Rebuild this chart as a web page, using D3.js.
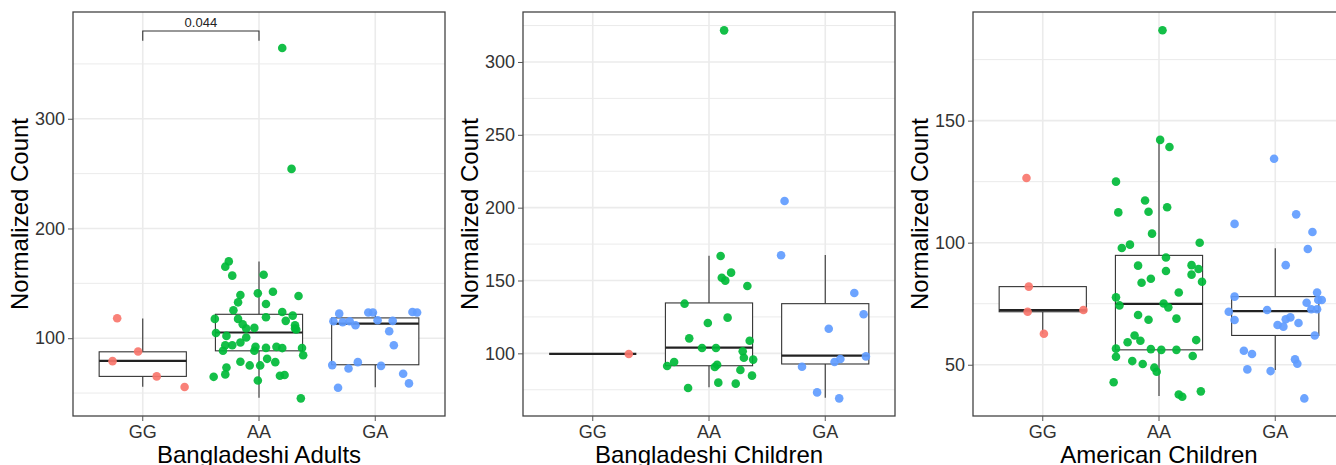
<!DOCTYPE html>
<html>
<head>
<meta charset="utf-8">
<script src="https://cdn.jsdelivr.net/npm/d3@7"></script>
<style>
body { margin: 0; background: #fff; }
text { font-family: "Liberation Sans", Arial, sans-serif; }
</style>
</head>
<body>
<svg id="chart" width="1336" height="465"></svg>
<script>
// Categories and colours
var genotypes = ["GG", "AA", "GA"];
var genoColors = ["#F8766D", "#00BA38", "#619CFF"];
var panelTitles = ["Bangladeshi Adults", "Bangladeshi Children", "American Children"];

// y axis setup per panel
var yDomains = [[29.1, 397.3], [57, 334.3], [29, 194.5]];
var yMajor = [[100, 200, 300], [100, 150, 200, 250, 300], [50, 100, 150]];
var yMinor = [[50, 150, 250, 350], [75, 125, 175, 225, 275, 325], [75, 125, 175]];

// Points: [jitter (category units), normalized count]
var adultsGG = [[-0.22, 118.2], [-0.04, 87.9], [-0.26, 79.1], [0.12, 65.2], [0.36, 55.5]];
var adultsAA = [[0.20, 364.5], [0.28, 254.3], [-0.26, 170], [-0.29, 165.2], [-0.23, 157], [0.04, 157.9],
  [-0.16, 139.4], [-0.01, 140.9], [0.12, 142.4], [0.34, 138.5], [-0.18, 132.7], [0.06, 131.2],
  [-0.22, 125.5], [0.20, 123.9], [0.29, 120.6], [-0.38, 117.6], [-0.18, 117.6], [0.06, 119.1],
  [0.23, 115.8], [0.31, 111.8], [-0.14, 112.7], [-0.11, 108.8], [-0.04, 109.4], [0.31, 108.8],
  [0.32, 108], [-0.37, 104.8], [-0.11, 100.6], [-0.28, 102.1], [-0.16, 96.1], [-0.29, 93.6],
  [-0.23, 93.6], [-0.03, 92.1], [0.06, 91.2], [0.15, 92.1], [0.20, 91], [0.37, 91],
  [-0.31, 88.5], [-0.04, 88.5], [0.38, 84.5], [0.07, 81.2], [-0.16, 78.5], [0.14, 78.2],
  [-0.08, 75.2], [0.01, 75.2], [-0.28, 73.3], [-0.29, 67], [-0.39, 64.8], [0.18, 65.8],
  [0.22, 66.4], [-0.01, 61.5], [0.36, 45.2]];
var adultsGA = [[-0.31, 122.4], [-0.06, 123.4], [-0.02, 123.4], [0.32, 123.9], [0.36, 123.4],
  [-0.36, 115.5], [-0.28, 114.5], [-0.22, 115.5], [-0.17, 111.8], [0.02, 116.4], [0.15, 115.8],
  [0.12, 106.4], [0.16, 93.6], [-0.37, 75.5], [-0.23, 72.4], [-0.15, 78.2], [0.05, 74.8],
  [0.24, 67.6], [-0.32, 54.8], [0.29, 58.8]];

var kidsBdGG = [[0.31, 99.6]];
var kidsBdAA = [[0.13, 321.7], [0.10, 166.8], [0.19, 155.4], [0.11, 151.9], [0.14, 149.9], [0.33, 146.2],
  [-0.21, 134.1], [0.16, 124.5], [-0.01, 120.8], [-0.17, 110.3], [0.35, 108.7], [-0.06, 103.7],
  [0.06, 103.7], [0.29, 101.4], [0.30, 97], [0.38, 95.7], [-0.30, 94.1], [-0.36, 91.3],
  [0.07, 92.2], [0.05, 90.6], [0.27, 88.6], [0.37, 84.7], [0.08, 79.9], [0.23, 79.2], [-0.18, 76.2]];
var kidsBdGA = [[-0.35, 204.6], [-0.38, 167.3], [0.25, 141.4], [0.33, 126.8], [0.03, 116.9], [0.35, 97.9],
  [0.13, 96.1], [0.08, 94.1], [-0.20, 90.8], [-0.07, 73.2], [0.12, 69.1]];

var kidsUsGG = [[-0.14, 126.5], [-0.12, 82], [-0.13, 71.7], [0.35, 72.4], [0.01, 62.7]];
var kidsUsAA = [[0.03, 187], [0.01, 142.1], [0.09, 139.2], [-0.37, 125], [-0.12, 117.3], [0.07, 114.5],
  [-0.35, 112.4], [-0.09, 112.7], [-0.06, 103.7], [0.35, 100], [-0.25, 99.2], [-0.32, 97.8],
  [0.06, 93.9], [-0.18, 90.6], [0.28, 90.8], [0.34, 89.2], [0.06, 88.4], [0.28, 86.9],
  [-0.15, 83.6], [-0.07, 85.2], [0.37, 84], [0.17, 79.6], [-0.37, 77.6], [-0.34, 74.3],
  [0.04, 75.1], [0.08, 73.5], [-0.18, 70.4], [-0.09, 68.4], [0.15, 68.9], [-0.21, 62],
  [-0.16, 59.8], [-0.27, 59.2], [0.32, 60.1], [-0.37, 56.6], [-0.07, 56.4], [0.02, 56.1],
  [0.15, 56.1], [0.29, 53.6], [-0.37, 53.3], [-0.23, 51.5], [-0.14, 50.3], [-0.04, 48.8],
  [-0.02, 47.1], [-0.39, 42.8], [0.36, 39.1], [0.17, 37.8], [0.20, 36.9]];
var kidsUsGA = [[-0.01, 134.4], [0.18, 111.6], [-0.35, 107.7], [0.32, 104.4], [0.28, 97.4], [0.09, 90.8],
  [0.36, 79.6], [-0.35, 77.9], [0.37, 76.5], [0.40, 76.5], [0.27, 75.4], [-0.07, 72.4],
  [-0.40, 71.7], [0.31, 72.7], [0.36, 72.7], [0.13, 69.4], [0.09, 68.6], [-0.35, 68.3],
  [0.20, 67.1], [0.02, 66.3], [0.07, 65.6], [0.34, 62], [-0.27, 55.7], [-0.20, 54.4],
  [0.17, 52.2], [0.19, 50.4], [-0.24, 48.1], [-0.04, 47.4], [0.25, 36.2]];

// Box stats per genotype: [lower whisker, Q1, median, Q3, upper whisker]
var adultsBox = [[55.7, 65.2, 79.4, 87.6, 118], [45.7, 88.5, 105.2, 121.8, 170], [55.2, 75.8, 113.3, 118.5, 123.6]];
var kidsBdBox = [[99.7, 99.7, 99.7, 99.7, 99.7], [76.7, 91.5, 103.9, 134.6, 167], [69.6, 92.7, 98.4, 134.1, 167.5]];
var kidsUsBox = [[62.7, 71.7, 72.4, 82, 82], [37.2, 56.1, 74.9, 94.8, 142.1], [47.8, 62, 72, 77.9, 97.7]];

// Significance annotation (panel 1): GG vs AA
var sigBrackets = [{ panel: 0, from: "GG", to: "AA", y: 380, tip: 371, label: "0.044" }];

var panelPoints = [[adultsGG, adultsAA, adultsGA], [kidsBdGG, kidsBdAA, kidsBdGA], [kidsUsGG, kidsUsAA, kidsUsGA]];
var panelBoxes = [adultsBox, kidsBdBox, kidsUsBox];

// Layout
var panelStep = 450,
    plotLeft = 73,
    plotWidth = 372,
    plotTop = 12,
    plotBottom = 416;

var svg = d3.select("#chart");

panelTitles.forEach(function(title, p) {
    var g = svg.append("g")
        .attr("transform", "translate(" + (p * panelStep + plotLeft) + "," + plotTop + ")");
    var h = plotBottom - plotTop;

    var x = d3.scaleBand()
        .domain(genotypes)
        .range([0, plotWidth])
        .paddingInner(0)
        .paddingOuter(0.1);
    var step = x.step();
    var cx = function(gt) { return x(gt) + x.bandwidth() / 2; };

    var y = d3.scaleLinear()
        .domain(yDomains[p])
        .range([h, 0]);

    // Grid: minor then major
    g.append("g").selectAll("line")
        .data(yMinor[p])
        .enter().append("line")
        .attr("x1", 0).attr("x2", plotWidth)
        .attr("y1", d => y(d)).attr("y2", d => y(d))
        .attr("stroke", "#EBEBEB").attr("stroke-width", 1);
    g.append("g").selectAll("line")
        .data(yMajor[p])
        .enter().append("line")
        .attr("x1", 0).attr("x2", plotWidth)
        .attr("y1", d => y(d)).attr("y2", d => y(d))
        .attr("stroke", "#EBEBEB").attr("stroke-width", 1.6);
    g.append("g").selectAll("line")
        .data(genotypes)
        .enter().append("line")
        .attr("x1", d => cx(d)).attr("x2", d => cx(d))
        .attr("y1", 0).attr("y2", h)
        .attr("stroke", "#EBEBEB").attr("stroke-width", 1.6);

    // Boxplots
    var boxes = panelBoxes[p];
    var bw = step * 0.75;
    var boxG = g.append("g").selectAll("g")
        .data(genotypes)
        .enter().append("g");
    boxG.append("line")
        .attr("x1", d => cx(d)).attr("x2", d => cx(d))
        .attr("y1", (d, i) => y(boxes[i][0])).attr("y2", (d, i) => y(boxes[i][1]))
        .attr("stroke", "#333").attr("stroke-width", 1.1);
    boxG.append("line")
        .attr("x1", d => cx(d)).attr("x2", d => cx(d))
        .attr("y1", (d, i) => y(boxes[i][3])).attr("y2", (d, i) => y(boxes[i][4]))
        .attr("stroke", "#333").attr("stroke-width", 1.1);
    boxG.append("rect")
        .attr("x", d => cx(d) - bw / 2)
        .attr("width", bw)
        .attr("y", (d, i) => y(boxes[i][3]))
        .attr("height", (d, i) => Math.max(0, y(boxes[i][1]) - y(boxes[i][3])))
        .attr("fill", "#fff")
        .attr("stroke", "#333").attr("stroke-width", 1.1);
    boxG.append("line")
        .attr("x1", d => cx(d) - bw / 2).attr("x2", d => cx(d) + bw / 2)
        .attr("y1", (d, i) => y(boxes[i][2])).attr("y2", (d, i) => y(boxes[i][2]))
        .attr("stroke", "#222").attr("stroke-width", 2.2);

    // Jittered points
    genotypes.forEach(function(gt, gi) {
        g.append("g").selectAll("circle")
            .data(panelPoints[p][gi])
            .enter().append("circle")
            .attr("cx", d => cx(gt) + d[0] * step)
            .attr("cy", d => y(d[1]))
            .attr("r", 4.3)
            .attr("fill", genoColors[gi])
            .attr("fill-opacity", 0.92);
    });

    // Significance bracket
    sigBrackets.filter(b => b.panel === p).forEach(function(b) {
        var x1 = cx(b.from), x2 = cx(b.to);
        g.append("path")
            .attr("d", "M" + x1 + "," + y(b.tip) + "V" + y(b.y) + "H" + x2 + "V" + y(b.tip))
            .attr("fill", "none")
            .attr("stroke", "#333").attr("stroke-width", 1.1);
        g.append("text")
            .attr("x", (x1 + x2) / 2)
            .attr("y", y(b.y) - 4)
            .attr("text-anchor", "middle")
            .attr("font-size", 13)
            .attr("fill", "#222")
            .text(b.label);
    });

    // Panel border
    g.append("rect")
        .attr("width", plotWidth).attr("height", h)
        .attr("fill", "none")
        .attr("stroke", "#444").attr("stroke-width", 1.3);

    // Axes
    var yAxis = g.append("g")
        .call(d3.axisLeft(y).tickValues(yMajor[p]).tickSize(5).tickPadding(3).tickFormat(d3.format("d")));
    var xAxis = g.append("g")
        .attr("transform", "translate(0," + h + ")")
        .call(d3.axisBottom(x).tickSize(5).tickPadding(4));
    [yAxis, xAxis].forEach(function(a) {
        a.select(".domain").remove();
        a.selectAll(".tick line").attr("stroke", "#555");
        a.selectAll(".tick text")
            .attr("font-size", 18)
            .attr("fill", "#333")
            .attr("font-family", "Liberation Sans, Arial, sans-serif");
    });

    // Titles
    g.append("text")
        .attr("transform", "translate(-45," + (h / 2) + ") rotate(-90)")
        .attr("text-anchor", "middle")
        .attr("font-size", 24)
        .attr("fill", "#000")
        .text("Normalized Count");
    g.append("text")
        .attr("x", plotWidth / 2)
        .attr("y", 463 - plotTop)
        .attr("text-anchor", "middle")
        .attr("font-size", 24)
        .attr("fill", "#000")
        .text(title);
});
</script>
</body>
</html>
